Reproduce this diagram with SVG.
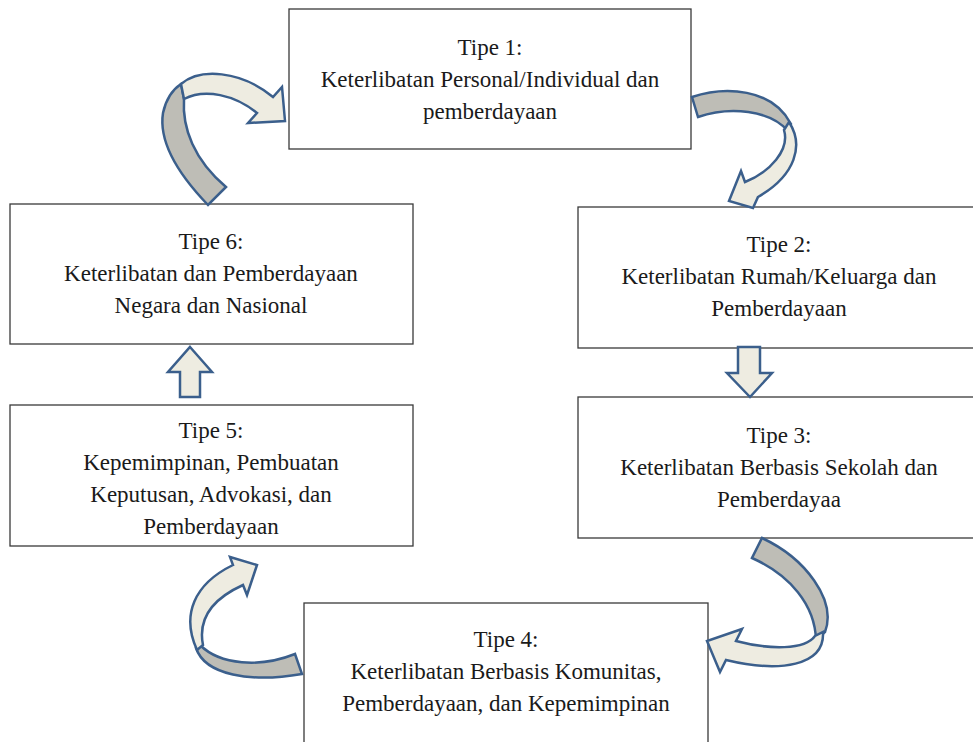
<svg xmlns="http://www.w3.org/2000/svg" width="973" height="742" viewBox="0 0 973 742">
<style>
.box{fill:#ffffff;stroke:#3a3a3a;stroke-width:1.3}
.light{fill:#eeece1;stroke:#3b5f8c;stroke-width:2.5;stroke-linejoin:miter}
.dark{fill:#bebdb6;stroke:#3b5f8c;stroke-width:2.5;stroke-linejoin:miter}
</style>
<rect width="973" height="742" fill="#ffffff"/>
<g font-family="Liberation Serif, Times New Roman, serif" font-size="23" fill="#1a1a1a" text-anchor="middle">
<g id="node1">
<rect class="box" x="289" y="9" width="402" height="140"/>
<text x="490" y="55">Tipe 1:</text>
<text x="490" y="87">Keterlibatan Personal/Individual dan</text>
<text x="490" y="119">pemberdayaan</text>
</g>
<g id="node2">
<rect class="box" x="578" y="207" width="403" height="141"/>
<text x="779" y="252">Tipe 2:</text>
<text x="779" y="284">Keterlibatan Rumah/Keluarga dan</text>
<text x="779" y="316">Pemberdayaan</text>
</g>
<g id="node3">
<rect class="box" x="578" y="397" width="403" height="141"/>
<text x="779" y="443">Tipe 3:</text>
<text x="779" y="475">Keterlibatan Berbasis Sekolah dan</text>
<text x="779" y="507">Pemberdayaa</text>
</g>
<g id="node4">
<rect class="box" x="304" y="603" width="404" height="150"/>
<text x="506" y="647">Tipe 4:</text>
<text x="506" y="679">Keterlibatan Berbasis Komunitas,</text>
<text x="506" y="711">Pemberdayaan, dan Kepemimpinan</text>
</g>
<g id="node5">
<rect class="box" x="10" y="405" width="403" height="141"/>
<text x="211" y="438">Tipe 5:</text>
<text x="211" y="470">Kepemimpinan, Pembuatan</text>
<text x="211" y="502">Keputusan, Advokasi, dan</text>
<text x="211" y="534">Pemberdayaan</text>
</g>
<g id="node6">
<rect class="box" x="10" y="204" width="403" height="140"/>
<text x="211" y="249">Tipe 6:</text>
<text x="211" y="281">Keterlibatan dan Pemberdayaan</text>
<text x="211" y="313">Negara dan Nasional</text>
</g>
</g>
<g id="connectors">
<path class="dark" d="M 208,205 C 182,178 158,145 163,113 C 166,99 172,90 181,84 L 184,99 C 182,128 194,160 226,187 Z"/>
<path class="light" d="M 181,84 C 200,68 240,70 273,97 L 282,87 L 285,121 L 248,123 L 257,113 C 235,95 205,88 184,99 Z"/>
<path class="dark" d="M 692,97 C 725,86 772,88 791,124 L 788,131 C 770,110 730,106 698,117 Z"/>
<path class="light" d="M 789,122 C 804,145 796,175 758,197 L 753,208 L 729,201 L 741,171 L 745,182 C 770,172 790,150 784,130 Z"/>
<path class="dark" d="M 762,538 C 805,558 837,600 825,632 L 816,640 C 815,605 790,575 752,558 Z"/>
<path class="light" d="M 823,632 C 825,666 780,673 726,660 L 720,672 L 707,641 L 742,629 L 736,641 C 770,650 805,650 815,636 Z"/>
<path class="dark" d="M 295,654 C 260,668 220,665 200,645 L 196,648 C 205,675 250,683 302,674 Z"/>
<path class="light" d="M 197,650 C 181,615 194,584 233,565 L 230,557 L 257,565 L 247,595 L 243,585 C 210,600 198,620 203,645 Z"/>
<path class="light" d="M 190,347 L 212,372 L 200,372 L 200,397 L 180,397 L 180,372 L 168,372 Z"/>
<path class="light" d="M 738,347 L 760,347 L 760,373 L 772,373 L 750,397 L 727,373 L 738,373 Z"/>
</g>
</svg>
